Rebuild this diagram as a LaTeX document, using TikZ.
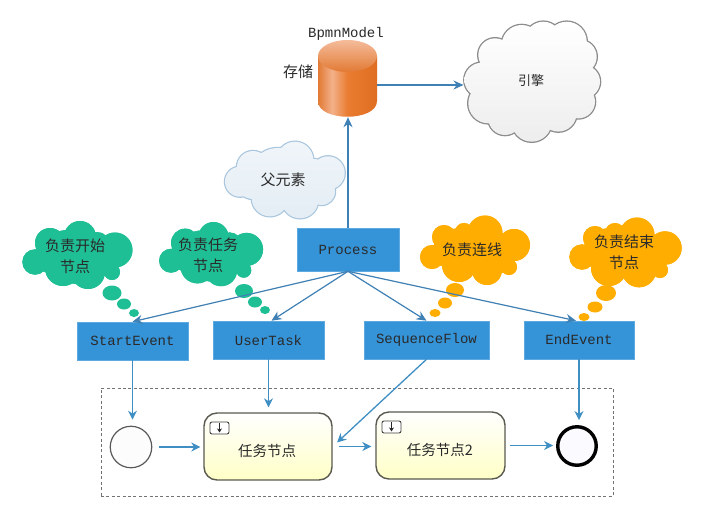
\documentclass[tikz,border=0pt]{standalone}
\usepackage{fontspec}
\setmainfont{Noto Sans CJK SC}
\setmonofont{Liberation Mono}
\usetikzlibrary{arrows.meta}
\definecolor{boxblue}{HTML}{3593D8}
\definecolor{linkblue}{HTML}{3F8FC4}
\definecolor{treeblue}{HTML}{3F80B5}
\definecolor{gcloud}{HTML}{1FBF96}
\definecolor{ocloud}{HTML}{FFAD00}
\definecolor{taskedge}{HTML}{5A5A50}
\definecolor{inktext}{HTML}{2A2A2A}
\definecolor{cyla}{HTML}{E27A34}
\definecolor{cylb}{HTML}{F3B08A}
\definecolor{cylc}{HTML}{E97C30}
\definecolor{cyld}{HTML}{DF6E22}
\pgfdeclarehorizontalshading{cylbody}{100bp}{color(0bp)=(cyla); color(25bp)=(cyla); color(37bp)=(cylb); color(50bp)=(cylc); color(75bp)=(cyld); color(100bp)=(cyld)}
\newcommand\blob[3]{\path[#1] #3; \path[#2] #3;}
\newcommand\greenlobes{(35,262) circle[radius=12.7] (50,243) circle[radius=15] (80,237) circle[radius=16] (115,250) circle[radius=17.5] (112,272) circle[radius=8] (63,268) circle[radius=18] (88,272) circle[radius=17] (77,257) circle[radius=27] (50,258) circle[radius=15] (100,258) circle[radius=17] (65,243) circle[radius=13] (97,245) circle[radius=13] (104,266) circle[radius=10]}
\tikzset{
  x=1pt,y=-1pt,
  bluebox/.style={draw=boxblue!80!white,fill=boxblue,line width=.6pt,inner sep=0pt,font=\ttfamily\fontsize{14}{14}\selectfont,text=inktext},
  cloudtext/.style={font=\fontsize{15}{21}\selectfont,text=inktext,align=center},
  tree/.style={draw=treeblue,line width=1.2pt,-{Stealth[length=10pt,width=9pt]}},
  link/.style={draw=linkblue,line width=1.3pt,-{Stealth[length=9pt,width=9pt]}},
  task/.style={draw=taskedge,line width=1.4pt,rounded corners=13pt,top color=white,bottom color=yellow!22!white,inner sep=0pt,font=\fontsize{14.5}{16}\selectfont,text=inktext},
  taskicon/.style={draw=black!75,line width=.9pt,rounded corners=2pt,fill=white},
}
\begin{document}
\begin{tikzpicture}
\useasboundingbox (0,0) rectangle (704,517);
\fill[white] (0,0) rectangle (704,517);
% clouds
\blob{draw=black!45,line width=2.6pt}{top color=white,bottom color=black!7}{(543.3,40) circle[radius=18.3] (566.7,41.7) circle[radius=20] (521.7,45) circle[radius=20] (495,55) circle[radius=16.7] (580,56.7) circle[radius=16.7] (583.3,81.7) circle[radius=16.7] (481.7,80) circle[radius=17.3] (488.3,103.3) circle[radius=20] (505,118.3) circle[radius=16.7] (531.7,121.7) circle[radius=20] (558.3,113.3) circle[radius=18.3] (578.3,101.7) circle[radius=16.7] (531.7,81.7) circle[radius=43.3]}
\blob{draw=treeblue!45!white,line width=2.4pt}{top color=treeblue!8!white,bottom color=treeblue!14!white}{(240,181.7) circle[radius=15] (253,167) circle[radius=16] (295,160) circle[radius=18.3] (328,173) circle[radius=16.7] (321.7,191.7) circle[radius=13.3] (300,200) circle[radius=18.3] (270,198) circle[radius=18.3] (278,178) circle[radius=30] (311.7,181.7) circle[radius=23] (271.7,171.7) circle[radius=13] (253,182) circle[radius=17]}
\blob{fill=gcloud}{fill=gcloud}{\greenlobes}
\begin{scope}[shift={(138,13.4)},scale=.944]
\blob{fill=gcloud}{fill=gcloud}{\greenlobes}
\end{scope}
\blob{fill=ocloud}{fill=ocloud}{(432,257) circle[radius=12] (444,237) circle[radius=12] (464,232) circle[radius=9] (485,233) circle[radius=17.5] (514,245) circle[radius=16] (509,267) circle[radius=8] (487,270) circle[radius=15] (459,265) circle[radius=17] (475,250) circle[radius=24] (447,252) circle[radius=15] (458,241) circle[radius=13] (500,254) circle[radius=15] (501,263) circle[radius=10]}
\blob{fill=ocloud}{fill=ocloud}{(582,257) circle[radius=12.7] (595,238) circle[radius=12] (615,233) circle[radius=10] (637,235) circle[radius=17.5] (665,248) circle[radius=16.7] (660,270) circle[radius=8] (639,270) circle[radius=17.3] (609,268) circle[radius=18] (624,253) circle[radius=25] (597,253) circle[radius=15] (608,241) circle[radius=13] (650,254) circle[radius=16] (652,264) circle[radius=10]}
% thought bubbles
\fill[gcloud] (112,293) ellipse[x radius=9.5pt,y radius=7.5pt] (124,304) ellipse[x radius=7pt,y radius=5.5pt] (134,313) ellipse[x radius=5pt,y radius=4pt];
\fill[gcloud] (244,291) ellipse[x radius=9pt,y radius=7pt] (255,302) ellipse[x radius=7pt,y radius=5.5pt] (265,310) ellipse[x radius=5pt,y radius=4pt];
\fill[ocloud] (455,290) ellipse[x radius=9pt,y radius=7pt] (445,303) ellipse[x radius=7pt,y radius=5.5pt] (435,313) ellipse[x radius=5.5pt,y radius=4pt];
\fill[ocloud] (606,293) ellipse[x radius=10pt,y radius=8pt] (595,307) ellipse[x radius=7.5pt,y radius=5.5pt] (584,317) ellipse[x radius=5.5pt,y radius=4pt];
% cloud texts
\node[cloudtext] (t1) at (75,256) {负责开始\\节点};
\node[cloudtext] (t2) at (208,255.5) {负责任务\\节点};
\node[cloudtext] (t3) at (472,250) {负责连线};
\node[cloudtext] (t4) at (624,252) {负责结束\\节点};
\node[cloudtext] (parent) at (283,180) {父元素};
\node[font=\fontsize{13}{13}\selectfont,text=inktext] (enginetext) at (531,81) {引擎};
\coordinate (enginein) at (463.5,85);
\coordinate (dbout) at (377,85);
% storage cylinder
\path[shading=cylbody] (318,56) -- (318,101) .. controls (318,122) and (377,122) .. (377,101) -- (377,56) -- cycle;
\path[top color=cylb!85!white,bottom color=cyla] (347.5,56) ellipse[x radius=29.5pt,y radius=16pt];
\node[minimum width=59pt,minimum height=77pt,inner sep=0pt] (db) at (347.5,78.5) {};
\node[font=\ttfamily\fontsize{14}{14}\selectfont,text=inktext] (bm) at (346,34) {BpmnModel};
\node[font=\fontsize{15}{15}\selectfont,text=inktext] (store) at (298,72) {存储};
% boxes
\node[bluebox,minimum width=102pt,minimum height=43pt] (proc) at (348,249.5) {Process};
\node[bluebox,minimum width=111pt,minimum height=38pt] (start) at (132.5,341) {StartEvent};
\node[bluebox,minimum width=111pt,minimum height=38pt] (user) at (268.5,340) {UserTask};
\node[bluebox,minimum width=125pt,minimum height=38pt] (seq) at (426.5,340) {SequenceFlow};
\node[bluebox,minimum width=110pt,minimum height=38pt] (endb) at (579,340) {EndEvent};
% lower frame
\node[draw=black!55,dashed,dash pattern=on 3pt off 2.4pt,line width=.9pt,minimum width=512pt,minimum height=108pt,inner sep=0pt] (frame) at (357,442) {};
\node[draw=black!65,line width=1.2pt,fill=black!1,circle,minimum size=41.5pt,inner sep=0pt] (sc) at (131,447) {};
\node[draw=black,line width=3.4pt,fill=blue!2!white,circle,minimum size=38.5pt,inner sep=0pt] (ec) at (577,446) {};
\node[task,minimum width=128pt,minimum height=67pt] (t5) at (268,446.5) {};
\node[task,minimum width=129pt,minimum height=67pt] (t6) at (440.5,445.5) {};
\node[font=\fontsize{14.5}{16}\selectfont,text=inktext] (t5text) at (267,451) {任务节点};
\node[font=\fontsize{14.5}{16}\selectfont,text=inktext] (t6text) at (440,450) {任务节点2};
% task markers
\node[taskicon,minimum width=19pt,minimum height=12pt,inner sep=0pt] (i1) at (219.5,428) {};
\node[taskicon,minimum width=19pt,minimum height=12pt,inner sep=0pt] (i2) at (391.5,427) {};
\draw[black!85,line width=1pt,-{Stealth[length=4pt,width=5pt]},shorten <=1.5pt,shorten >=2pt] (i1.north) -- (i1.south);
\draw[black!85,line width=1pt,-{Stealth[length=4pt,width=5pt]},shorten <=1.5pt,shorten >=2pt] (i2.north) -- (i2.south);
% connectors
\draw[tree] (proc.north) -- (proc.north |- db.south);
\draw[tree] (dbout) -- (enginein);
\draw[tree] (proc.south) -- (start.north);
\draw[tree] (proc.south) -- ([xshift=3pt]user.north);
\draw[tree] (proc.south) -- (seq.north);
\draw[tree] (proc.south) -- ([xshift=-3pt]endb.north);
\draw[link] (start.south) -- ([yshift=6pt]sc.north -| start.south);
\draw[link] (user.south) -- ([yshift=5pt]t5.north -| user.south);
\draw[link,shorten >=6pt] (seq.south) -- (t5.east);
\draw[link] (endb.south) -- ([yshift=5pt]ec.north -| endb.south);
\draw[link,shorten <=7pt,shorten >=3pt] (sc.east) -- (t5.west |- sc.east);
\draw[link,shorten <=6pt,shorten >=4pt] (t5.east) -- (t6.west |- t5.east);
\draw[link,shorten <=4pt,shorten >=3pt] (t6.east) -- (ec.west |- t6.east);
\end{tikzpicture}
\end{document}
